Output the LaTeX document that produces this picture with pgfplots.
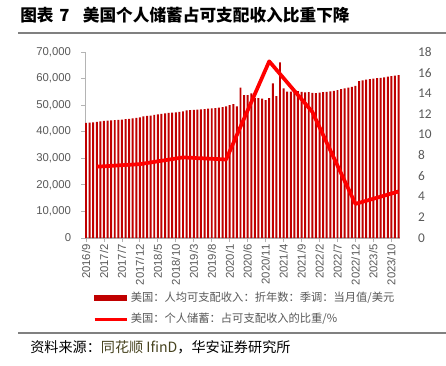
\documentclass[border=0pt]{standalone}
\usepackage{fontspec}
\setmainfont{Liberation Sans}
\newfontfamily\cjk{Noto Sans CJK SC}
\newfontfamily\carlito{Carlito}
\usepackage{pgfplots}
\usepackage{pgfplotstable}
\pgfplotsset{compat=1.18}
\definecolor{barred}{RGB}{192,0,0}
\definecolor{linered}{RGB}{255,0,0}
\definecolor{axgray}{RGB}{180,180,180}
\definecolor{txtgray}{RGB}{89,89,89}
\definecolor{srcolive}{RGB}{70,66,30}
\definecolor{rulegray}{RGB}{128,128,128}

\pgfplotstableread{
idx val
0 43300
1 43400
2 43500
3 43700
4 43900
5 44100
6 44200
7 44300
8 44400
9 44500
10 44600
11 44700
12 44800
13 45000
14 45200
15 45400
16 45800
17 46000
18 46100
19 46300
20 46500
21 46700
22 46900
23 47100
24 47200
25 47300
26 47500
27 47700
28 48000
29 48100
30 48200
31 48300
32 48400
33 48500
34 48700
35 48800
36 48900
37 49100
38 49300
39 49500
40 50000
41 50400
42 49500
43 56600
44 53800
45 53800
46 54400
47 52600
48 52600
49 52500
50 51900
51 52600
52 58200
53 53400
54 66100
55 56300
56 55100
57 55100
58 55600
59 55300
60 55000
61 54800
62 54900
63 54600
64 54500
65 54700
66 54900
67 55000
68 55200
69 55400
70 55700
71 56000
72 56300
73 56600
74 56900
75 57300
76 59000
77 59300
78 59600
79 59800
80 60000
81 60200
82 60300
83 60500
84 60700
85 60900
86 61100
87 61300
}\income

\pgfplotstableread{
idx val
3 6.9
15 7.15
27 7.8
39 7.6
51 17.1
63 12.2
75 3.3
87 4.5
}\saving

\begin{document}
\begin{tikzpicture}
\path[use as bounding box] (0,0) rectangle (334.5pt,-273.75pt);
\node[anchor=west, inner sep=0pt] at (20*0.75pt,-15*0.75pt) {\cjk\bfseries\fontsize{12.5}{14}\selectfont 图表\hspace{0.35em}7\hspace{0.8em}美国个人储蓄占可支配收入比重下降};
\draw[rulegray, line width=1.1pt] (18*0.75pt,-33*0.75pt) -- (334.5pt,-33*0.75pt);
\draw[rulegray, line width=1.1pt] (18*0.75pt,-333*0.75pt) -- (334.5pt,-333*0.75pt);
\node[anchor=west, inner sep=0pt] at (30*0.75pt,-347*0.75pt) {\cjk\fontsize{10.6}{12}\selectfont 资料来源：{\color{srcolive}同花顺 IfinD}，华安证券研究所};

\begin{axis}[
  at={(85.1*0.75pt,-238*0.75pt)}, anchor=south west,
  scale only axis, width=314.9*0.75pt, height=186*0.75pt,
  xmin=-0.25, xmax=87.4, ymin=0, ymax=70000,
  axis y line*=left, axis x line*=bottom,
  axis line style={axgray, line width=0.8pt},
  tick style={axgray, line width=0.6pt},
  tick align=outside, major tick length=3pt,
  xtick={0,5,...,85},
  xticklabels={2016/9,2017/2,2017/7,2017/12,2018/5,2018/10,2019/3,2019/8,2020/1,2020/6,2020/11,2021/4,2021/9,2022/2,2022/7,2022/12,2023/5,2023/10},
  xticklabel style={rotate=90, anchor=east, font=\fontsize{8.5}{10}\selectfont, text=txtgray, inner sep=1.5pt},
  ytick={0,10000,...,70000},
  scaled y ticks=false,
  yticklabel style={/pgf/number format/1000 sep={,}, font=\fontsize{8.5}{10}\selectfont, text=txtgray, xshift=-4pt},
  /pgf/number format/assume math mode=true,
  clip=false,
]
\addplot[ybar, bar width=0.55, fill=barred, draw=none] table[x=idx,y=val]{\income};
\end{axis}

\begin{axis}[
  at={(85.1*0.75pt,-238*0.75pt)}, anchor=south west,
  scale only axis, width=314.9*0.75pt, height=186*0.75pt,
  xmin=-0.25, xmax=87.4, ymin=0, ymax=18,
  axis y line*=right, axis x line=none,
  y axis line style={draw=none},
  major tick length=0pt,
  ytick={0,2,...,18},
  yticklabel style={font=\carlito\fontsize{10}{12}\selectfont, text=txtgray, anchor=west, xshift=10pt},
  /pgf/number format/assume math mode=true,
  legend style={at={(axis description cs:0.025,-0.275)}, anchor=north west, draw=none, fill=none,
     font=\cjk\fontsize{8.45}{10}\selectfont, text=txtgray, row sep=3.3pt, inner sep=0pt},
  legend cell align=left,
  clip=false,
]
\addlegendimage{legend image code/.code={\fill[barred] (0pt,-1.7pt) rectangle (24pt,1.7pt);}}
\addlegendentry{美国：人均可支配收入：折年数：季调：当月值/美元}
\addplot[linered, line width=2.8pt, line join=round, legend image code/.code={\draw[linered, line width=2.2pt] (0pt,0pt) -- (24pt,0pt);}] table[x=idx,y=val]{\saving};
\addlegendentry{美国：个人储蓄：占可支配收入的比重/\%}
\end{axis}
\end{tikzpicture}
\end{document}
